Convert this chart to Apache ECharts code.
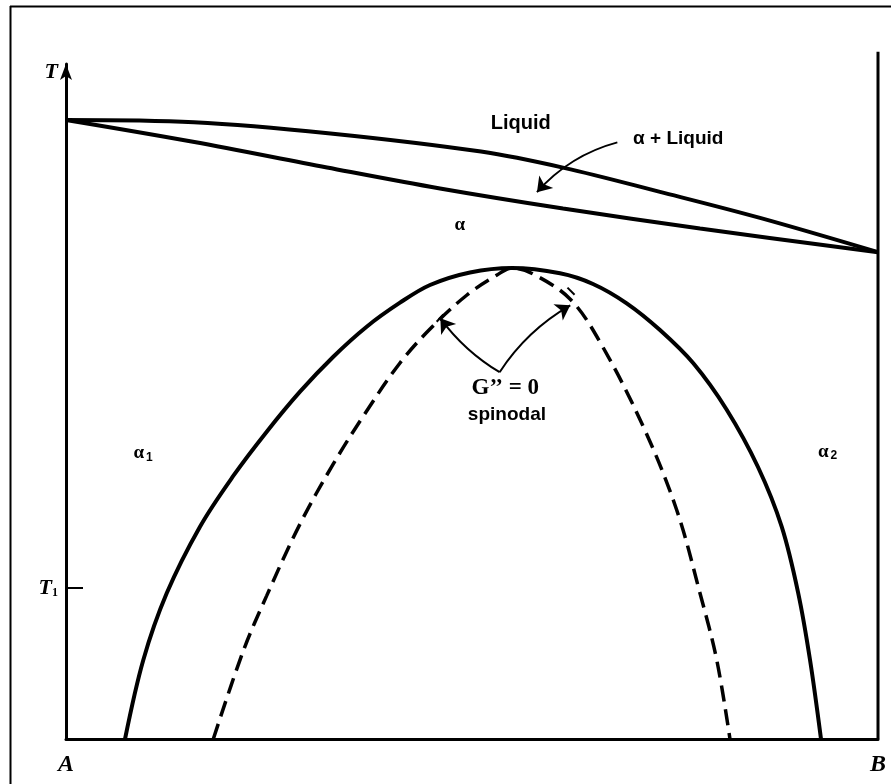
<!DOCTYPE html>
<html>
<head>
<meta charset="utf-8">
<script src="https://cdn.jsdelivr.net/npm/echarts@6/dist/echarts.min.js"></script>
<style>html,body{margin:0;padding:0;background:#fff;}#c{width:891px;height:784px;}</style>
</head>
<body>
<div id="c"></div>
<script>
// composition (A=0, B=1) and temperature (arbitrary units)
const liquidusX = [0, 0.1576, 0.3227, 0.5111, 0.6133, 0.7315, 0.8547, 1.0];
const liquidusT = [90.8, 90.47, 88.86, 86.16, 83.77, 80.25, 76.43, 71.4];
const solidusX = [0, 0.1564, 0.3214, 0.4606, 0.6121, 0.7808, 1.0];
const solidusT = [90.8, 87.6, 83.82, 80.74, 77.8, 74.87, 71.4];
const solvusX = [0.0727, 0.0952, 0.1240, 0.1650, 0.2060, 0.2472, 0.2882, 0.3292, 0.3703, 0.4113, 0.4483, 0.4975, 0.5493,
                 0.6084, 0.6490, 0.6905, 0.7315, 0.7726, 0.8137, 0.8522, 0.8814, 0.9018, 0.9163, 0.9298];
const solvusT = [0, 11.59, 21.37, 31.14, 38.58, 45.07, 50.94, 56.07, 60.47, 63.99, 66.59, 68.43, 69.09,
                 68.31, 66.74, 63.90, 59.98, 55.10, 48.29, 39.89, 31.14, 21.37, 11.59, 0];
const spinodalX = [0.1814, 0.2183, 0.2472, 0.2882, 0.3292, 0.3703, 0.4113, 0.4483, 0.4938, 0.5308, 0.5493,
                   0.5751, 0.6207, 0.6576, 0.7110, 0.7521, 0.7808, 0.8014, 0.8177];
const spinodalT = [0, 12.91, 21.03, 31.54, 40.34, 48.11, 55.15, 60.13, 65.12, 68.05, 69.09,
                   68.21, 64.54, 58.23, 45.80, 33.59, 21.37, 11.59, 0];
const rightAxisX = [1, 1];
const rightAxisT = [0, 100.8];

const xTickValues = [0, 1];
const xTickLabels = ['A', 'B'];
const yTickValues = [22.15];
const yLabelValues = [22.15, 97.8];
const yLabelTexts = ['{t|T}{s|1}', '{t|T}'];

const regionLabels = ['Liquid', 'α + Liquid', 'α', '{a|α}{s|1}', '{a|α}{s|2}', 'G’’ = 0', 'spinodal'];
const regionX = [0.560, 0.754, 0.485, 0.095, 0.938, 0.541, 0.543];
const regionT = [90.3, 88.0, 75.4, 41.9, 42.1, 51.5, 47.5];

const arrowFrom = [[0.679, 87.5], [0.534, 53.8], [0.534, 53.8]];
const arrowTo = [[0.580, 80.2], [0.461, 61.7], [0.621, 63.6]];
const arrowBend = [-0.15, 0.1, 0.12];
const barFrom = [[0.4565, 61.2], [0.6176, 66.2]];
const barTo = [[0.4647, 62.29], [0.6263, 65.15]];

const zip = (xs, ys) => xs.map((x, i) => [x, ys[i]]);

const subStyle = { fontFamily: 'Liberation Sans', fontWeight: 'bold', fontSize: 12, color: '#000', verticalAlign: 'bottom', padding: [8, 0, 0, 2] };
const alphaStyle = { fontFamily: 'Liberation Serif', fontWeight: 'bold', fontSize: 19, color: '#000' };
const labelStyles = [
  { fontFamily: 'Liberation Sans', fontWeight: 'bold', fontSize: 20 },
  { fontFamily: 'Liberation Sans', fontWeight: 'bold', fontSize: 19 },
  { fontFamily: 'Liberation Serif', fontWeight: 'bold', fontSize: 19 },
  { rich: { a: alphaStyle, s: subStyle } },
  { rich: { a: alphaStyle, s: subStyle } },
  { fontFamily: 'Liberation Serif', fontWeight: 'bold', fontSize: 23 },
  { fontFamily: 'Liberation Sans', fontWeight: 'bold', fontSize: 19 }
];

const chart = echarts.init(document.getElementById('c'), null, { renderer: 'canvas' });

const curveLine = (name, xs, ys, dashed) => ({
  name, type: 'line', data: zip(xs, ys), smooth: 0.35, showSymbol: false, symbol: 'none',
  lineStyle: { color: '#000', width: dashed ? 3.5 : 4, type: dashed ? [16, 8] : 'solid', opacity: 1 },
  silent: true, clip: false, z: 3
});

chart.setOption({
  animation: false,
  backgroundColor: '#fff',
  grid: { left: 66, right: 13, top: 64, bottom: 45 },
  xAxis: {
    type: 'value', min: 0, max: 1,
    splitLine: { show: false },
    axisLine: { show: true, lineStyle: { color: '#000', width: 3 } },
    axisTick: { show: false },
    axisLabel: {
      customValues: xTickValues,
      formatter: v => xTickLabels[xTickValues.indexOf(v)] || '',
      fontFamily: 'Liberation Serif', fontStyle: 'italic', fontWeight: 'bold', fontSize: 24, color: '#000', margin: 14
    }
  },
  yAxis: {
    type: 'value', min: 0, max: 99,
    splitLine: { show: false },
    axisLine: { show: true, onZero: false, lineStyle: { color: '#000', width: 3 }, symbol: ['none', 'arrow'], symbolSize: [9, 16] },
    axisTick: { show: true, inside: true, length: 17, customValues: yTickValues, lineStyle: { color: '#000', width: 2 } },
    axisLabel: {
      customValues: yLabelValues,
      formatter: v => yLabelTexts[yLabelValues.indexOf(v)] || '',
      margin: 8,
      rich: {
        t: { fontFamily: 'Liberation Serif', fontStyle: 'italic', fontWeight: 'bold', fontSize: 22, color: '#000' },
        s: { fontFamily: 'Liberation Serif', fontWeight: 'bold', fontSize: 12, color: '#000', verticalAlign: 'bottom', padding: [8, 0, 0, 0] }
      }
    }
  },
  graphic: [
    { type: 'line', shape: { x1: 10.5, y1: 6, x2: 10.5, y2: 784 }, style: { stroke: '#000', lineWidth: 2 } },
    { type: 'line', shape: { x1: 10, y1: 6.5, x2: 891, y2: 6.5 }, style: { stroke: '#000', lineWidth: 2 } }
  ],
  series: [
    curveLine('liquidus', liquidusX, liquidusT, false),
    curveLine('solidus', solidusX, solidusT, false),
    curveLine('solvus', solvusX, solvusT, false),
    curveLine('spinodal', spinodalX, spinodalT, true),
    {
      name: 'B axis', type: 'line', data: zip(rightAxisX, rightAxisT), symbol: 'none', clip: false,
      lineStyle: { color: '#000', width: 3 }, silent: true, z: 2
    },
    {
      name: 'arrows', type: 'lines', coordinateSystem: 'cartesian2d', silent: true,
      symbol: ['none', 'arrow'], symbolSize: [9, 14],
      data: arrowFrom.map((f, i) => ({ coords: [f, arrowTo[i]], lineStyle: { curveness: arrowBend[i] } })),
      lineStyle: { color: '#000', width: 2, opacity: 1 }, z: 4
    },
    {
      name: 'arrow bars', type: 'lines', coordinateSystem: 'cartesian2d', silent: true,
      symbol: 'none',
      data: barFrom.map((f, i) => ({ coords: [f, barTo[i]] })),
      lineStyle: { color: '#000', width: 2, opacity: 1 }, z: 4
    },
    {
      name: 'labels', type: 'scatter', symbolSize: 0, silent: true, clip: false,
      itemStyle: { opacity: 1 },
      data: regionLabels.map((t, i) => ({
        value: [regionX[i], regionT[i]],
        label: Object.assign({ show: true, position: 'inside', formatter: t, color: '#000', opacity: 1 }, labelStyles[i])
      })),
      z: 5
    }
  ]
});
</script>
</body>
</html>
